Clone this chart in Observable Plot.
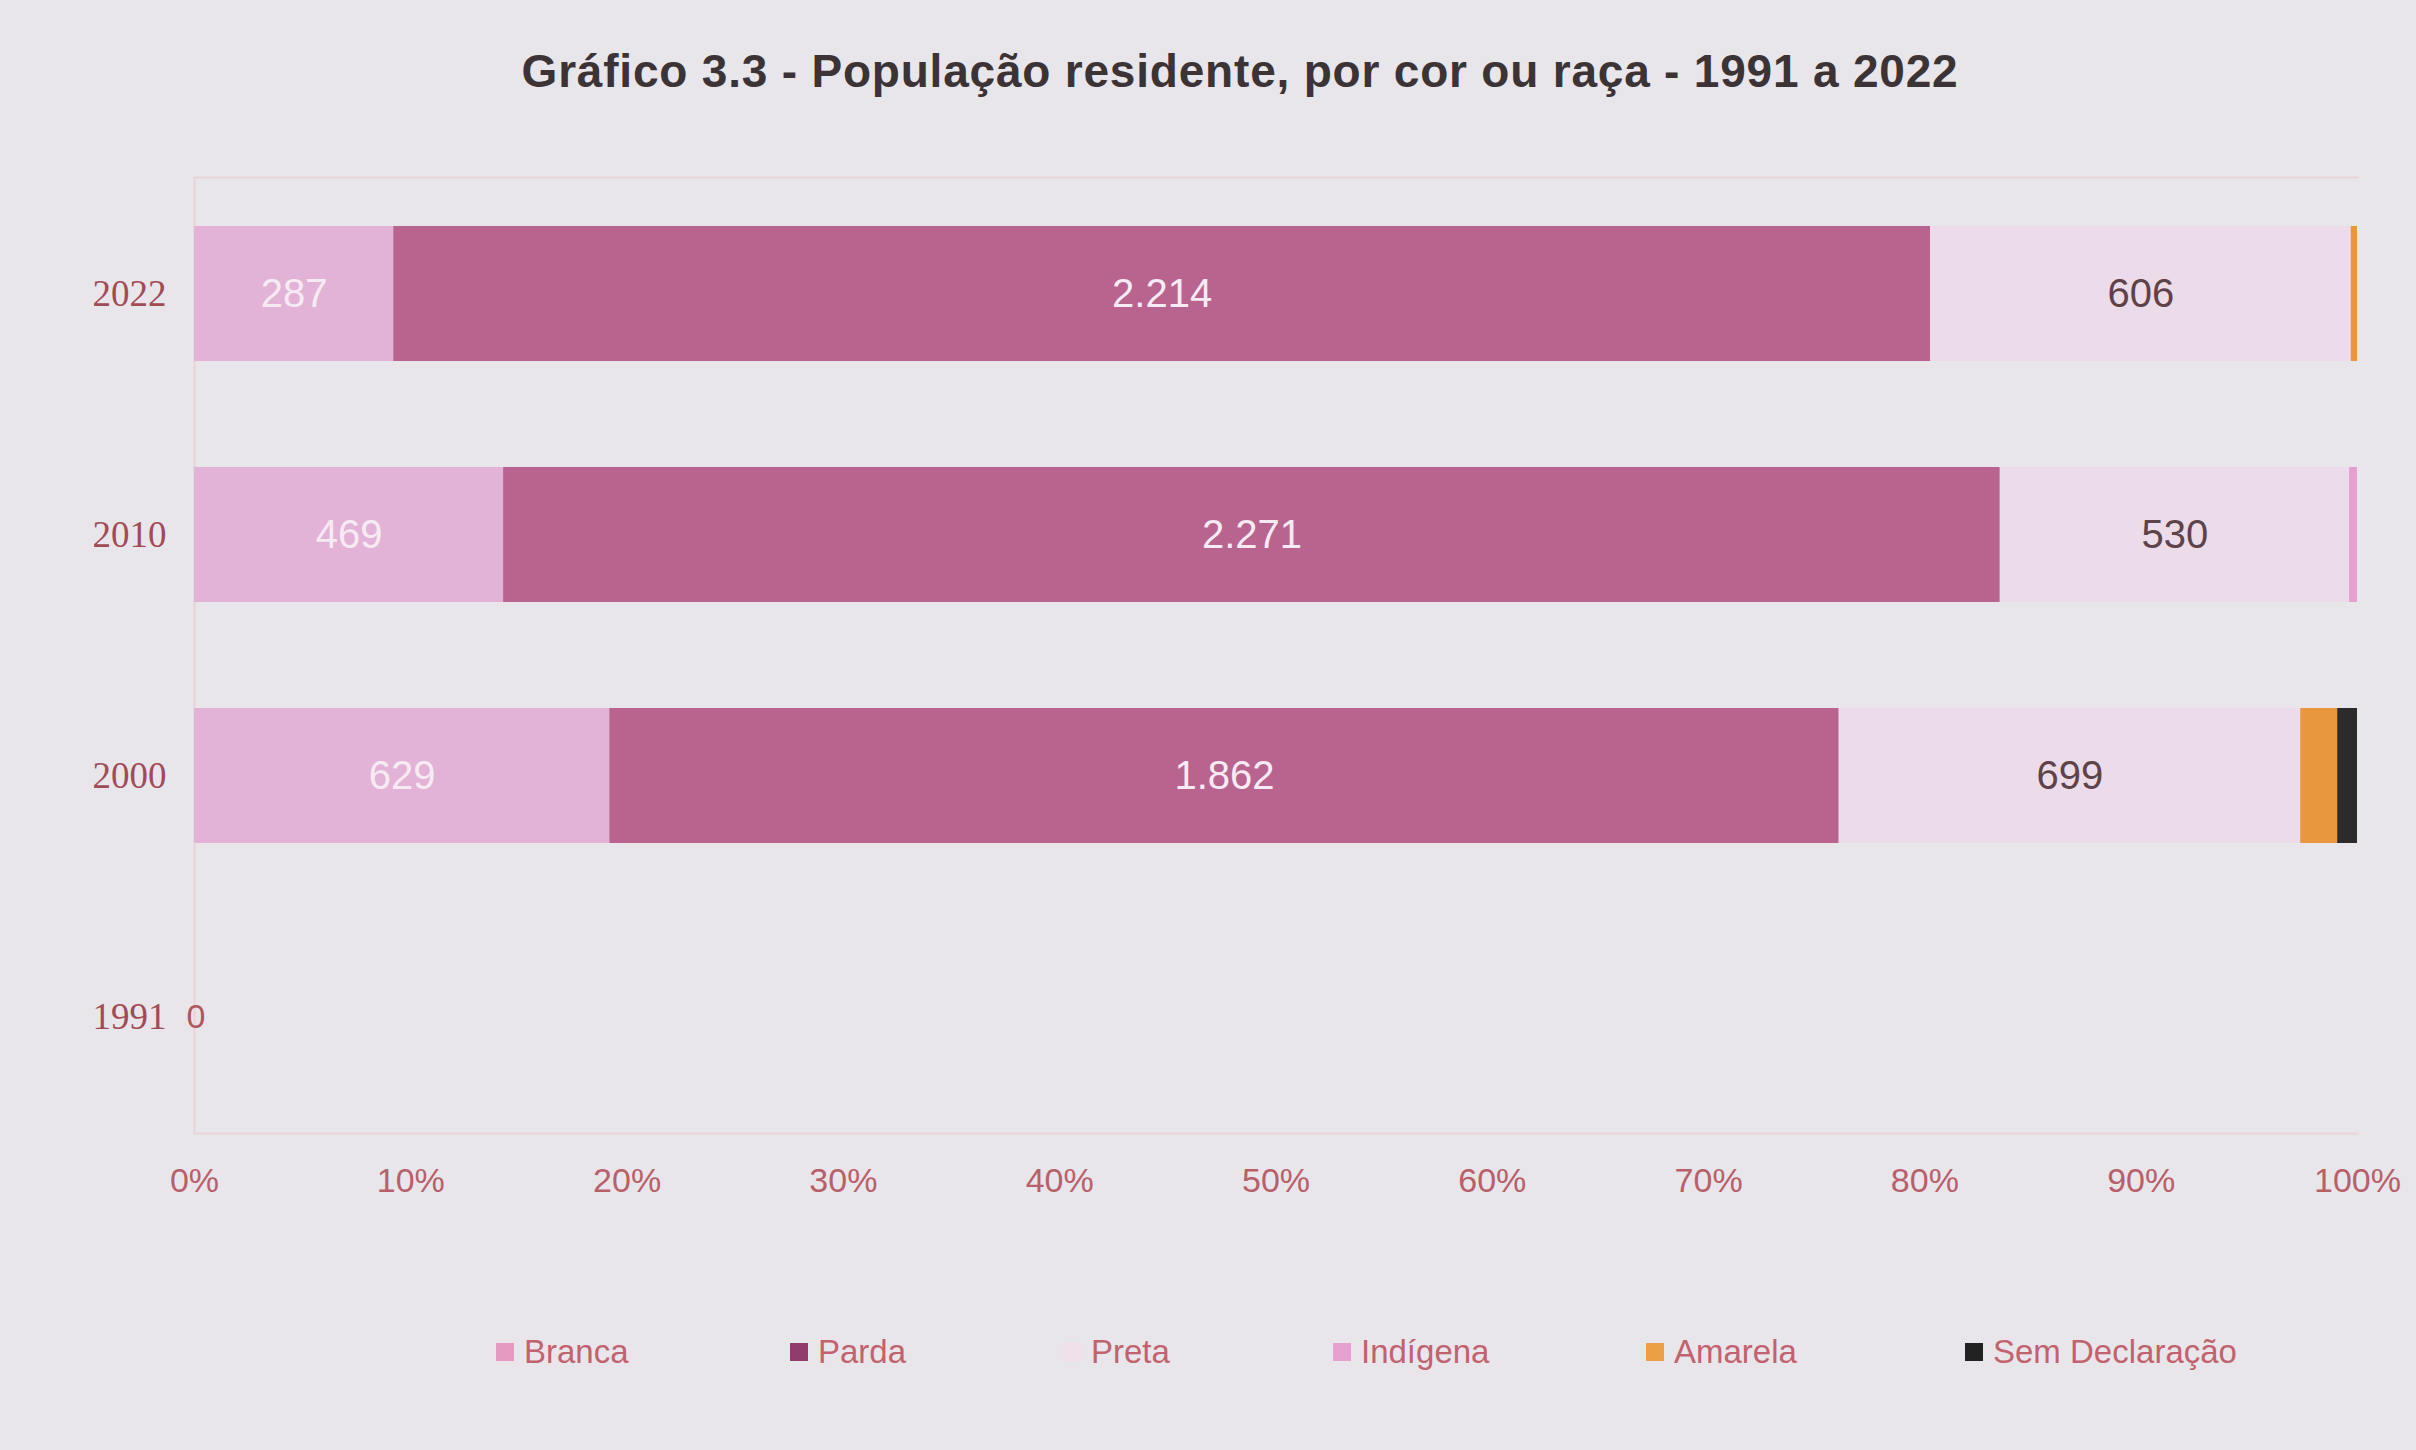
<!DOCTYPE html>
<html>
<head>
<meta charset="utf-8">
<script src="https://cdn.jsdelivr.net/npm/d3@7"></script>
<script src="https://cdn.jsdelivr.net/npm/@observablehq/plot@0.6"></script>
<style>
  html, body { margin: 0; padding: 0; }
  body { width: 2416px; height: 1450px; background: #e8e6eb; position: relative; overflow: hidden; font-family: "Liberation Sans", Arial, sans-serif; }
  #title { position: absolute; top: 44px; left: 32px; width: 2416px; text-align: center; font-weight: bold; font-size: 46px; color: #3b3336; letter-spacing: 0.8px; }
  #chart { position: absolute; top: 140px; left: 0; }
  #legend { position: absolute; top: 1333px; left: 496px; display: flex; }
  .item { display: flex; align-items: center; font-size: 33px; color: #c2626e; }
  .sw { width: 18px; height: 18px; margin-right: 10px; flex: none; }
</style>
</head>
<body>
<div id="title">Gráfico 3.3 - População residente, por cor ou raça - 1991 a 2022</div>
<div id="chart"></div>
<div id="legend"></div>
<script>
const years = ["2022", "2010", "2000", "1991"];
const categories = ["Branca", "Parda", "Preta", "Indígena", "Amarela", "Sem Declaração"];
const branca = [287, 469, 629, 0];
const parda = [2214, 2271, 1862, 0];
const preta = [606, 530, 699, 0];
const indigena = [0, 12, 0, 0];
const amarela = [9, 0, 56, 0];
const semDeclaracao = [0, 0, 30, 0];
const xTicks = [0, 0.1, 0.2, 0.3, 0.4, 0.5, 0.6, 0.7, 0.8, 0.9, 1];
const colors = ["#e2b3d6", "#b9648f", "#ecdbe8", "#e6a0d0", "#e8973d", "#2b2b2b"];
const legendColors = ["#e59ac2", "#8e3d6c", "#efe0ea", "#e6a0d0", "#eca043", "#222222"];
const legendWidths = [294, 273, 270, 313, 319, 300];

const series = [branca, parda, preta, indigena, amarela, semDeclaracao];
const rows = [];
years.forEach((y, i) => {
  const total = d3.sum(series, s => s[i]);
  if (total === 0) return;
  categories.forEach((c, k) => rows.push({ year: y, cat: c, value: series[k][i] }));
});
const zeroYears = years
  .map((y, i) => ({ year: y, total: d3.sum(series, s => s[i]) }))
  .filter(d => d.total === 0);

const fmt = d3.formatLocale({ decimal: ",", thousands: ".", grouping: [3], currency: ["R$", ""] }).format(",d");

const plot = Plot.plot({
  width: 2416,
  height: 1090,
  marginTop: 37,
  marginBottom: 97,
  marginLeft: 194,
  marginRight: 59,
  style: { background: "transparent", fontFamily: "Liberation Sans, Arial, sans-serif" },
  x: { domain: [0, 1], ticks: xTicks, tickFormat: d => `${Math.round(d * 100)}%`, label: null },
  y: { domain: years, paddingInner: 0.44, paddingOuter: 0.2, label: null },
  color: { domain: categories, range: colors },
  marks: [
    Plot.frame({ anchor: "top", stroke: "#e9d3d6", strokeWidth: 2 }),
    Plot.frame({ anchor: "bottom", stroke: "#e9d3d6", strokeWidth: 2 }),
    Plot.ruleX([0], { stroke: "#ead2d6", strokeWidth: 2 }),
    Plot.barX(rows, Plot.stackX({ offset: "normalize", x: "value", y: "year", fill: "cat", z: "cat" })),
    Plot.text(rows, Plot.stackX({
      offset: "normalize", x: "value", y: "year", z: "cat",
      text: d => (d.cat === "Branca" || d.cat === "Parda") ? fmt(d.value) : null,
      fill: "#f7ebf3", fontSize: 40
    })),
    Plot.text(rows, Plot.stackX({
      offset: "normalize", x: "value", y: "year", z: "cat",
      text: d => d.cat === "Preta" ? fmt(d.value) : null,
      fill: "#5e4249", fontSize: 40
    })),
    Plot.text(zeroYears, { x: 0, y: "year", text: d => fmt(d.total), fill: "#b2555e", fontSize: 34, textAnchor: "start", dx: -8 }),
    Plot.axisX({ ticks: xTicks, tickFormat: d => `${Math.round(d * 100)}%`, tickSize: 0, tickPadding: 34, fontSize: 34, color: "#b8606a", label: null }),
    Plot.axisY({ tickSize: 0, tickPadding: 28, fontSize: 37, color: "#a24a55", label: null, fontFamily: "Liberation Serif, serif" })
  ]
});
document.getElementById("chart").appendChild(plot);

const legend = document.getElementById("legend");
categories.forEach((c, k) => {
  const item = document.createElement("div");
  item.className = "item";
  item.style.width = legendWidths[k] + "px";
  const sw = document.createElement("span");
  sw.className = "sw";
  sw.style.background = legendColors[k];
  const t = document.createElement("span");
  t.textContent = c;
  item.appendChild(sw);
  item.appendChild(t);
  legend.appendChild(item);
});
</script>
</body>
</html>
